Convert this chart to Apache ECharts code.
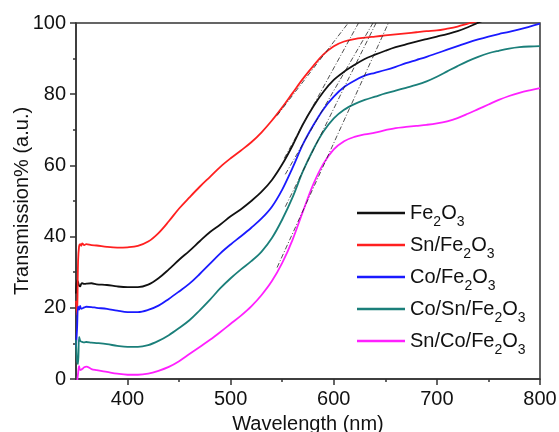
<!DOCTYPE html>
<html>
<head>
<meta charset="utf-8">
<script src="https://cdn.jsdelivr.net/npm/echarts@6/dist/echarts.min.js"></script>
<style>
html,body{margin:0;padding:0;background:#fff;}
#c{width:559px;height:432px;}
</style>
</head>
<body>
<div id="c"></div>
<script>
// Wavelength grid (nm)
var wavelengths = [350,351,352,353,354,355,356,358,360,365,370,380,390,400,410,420,430,440,450,460,470,480,490,500,510,520,530,540,550,560,570,580,590,600,610,620,630,640,650,660,670,680,690,700,710,720,730,740,750,760,770,780,790,800];

var seriesNames = ['Fe2O3', 'Sn/Fe2O3', 'Co/Fe2O3', 'Co/Sn/Fe2O3', 'Sn/Co/Fe2O3'];
var seriesColors = ['#111111', '#ff2020', '#1a1aff', '#1b7f7a', '#ff20ff'];

var fe2o3 = [24,27.8,27.2,26.2,26.0,26.7,26.9,26.7,26.8,26.9,26.6,26.4,26.0,25.8,25.8,26.5,28.3,30.8,33.5,36.0,38.7,41.3,43.4,45.7,47.7,50.0,52.6,55.9,60.3,65.6,71.5,76.5,80.7,84.0,86.3,88.2,89.9,91.1,92.2,93.2,94.0,94.8,95.5,96.2,96.9,97.7,98.8,100.1,101.2,null,null,null,null,null];
var snFe2o3 = [22,18,33,37.3,37.9,37.4,38.1,37.6,37.9,37.6,37.5,37.1,36.9,37.0,37.4,38.6,41.0,44.3,47.9,51.0,54.0,56.8,59.6,62.0,64.2,66.5,69.3,72.6,76.3,80.3,84.3,87.9,91.2,93.5,94.8,95.5,95.9,96.2,96.5,96.8,97.1,97.4,97.7,97.9,98.4,99.0,99.8,100.6,101.3,null,null,null,null,null];
var coFe2o3 = [9,14,20.3,19.5,20.5,19.7,19.8,20.1,20.3,20.2,20.0,19.7,19.2,18.8,18.8,19.4,20.6,22.5,24.6,26.8,29.5,32.4,35.3,37.8,40.1,42.5,45.1,48.4,53.2,59.3,65.9,71.2,75.8,79.3,82.0,83.8,85.2,86.0,86.8,87.7,88.7,89.6,90.5,91.5,92.5,93.5,94.5,95.4,96.2,96.9,97.5,98.2,99.0,99.8];
var coSnFe2o3 = [11,5,4.2,11.8,10.8,10.5,10.4,10.3,10.4,10.2,10.1,9.8,9.3,9.0,9.0,9.5,10.7,12.3,14.3,16.5,19.3,22.3,25.5,28.3,30.8,33.1,35.8,39.6,44.8,51.0,58.3,64.4,69.5,73.2,75.6,77.2,78.4,79.3,80.2,81.0,81.8,82.6,83.6,84.9,86.4,87.9,89.3,90.5,91.5,92.2,92.8,93.2,93.4,93.5];
var snCoFe2o3 = [-3,-1,1.5,3.6,2.5,2.6,2.8,3.3,3.5,2.8,2.5,2.0,1.5,1.2,1.2,1.5,2.3,3.4,5.0,7.0,9.0,11.0,13.2,15.5,17.8,20.4,23.6,27.5,32.6,39.1,47.0,54.6,60.5,64.5,66.8,68.0,68.7,69.2,69.9,70.5,70.8,71.1,71.4,71.8,72.4,73.3,74.5,75.8,77.1,78.4,79.5,80.4,81.1,81.7];

// Tangent (dash-dot) lines: [x1, y1, x2, y2]
var tangentRed = [545, 74.0, 614, 100];
var tangentBlack = [552, 62.0, 624, 100];
var tangentBlue = [553, 57.5, 638, 100];
var tangentTeal = [553, 48.4, 641, 100];
var tangentMagenta = [545, 31.3, 653, 100];

var xMajorTicks = [400, 500, 600, 700, 800];
var xMinorTicks = [450, 550, 650, 750];

var allData = [fe2o3, snFe2o3, coFe2o3, coSnFe2o3, snCoFe2o3];
var tangents = [tangentRed, tangentBlack, tangentBlue, tangentTeal, tangentMagenta];

function pairs(vals) {
  return wavelengths.map(function (w, i) { return [w, vals[i]]; });
}

var series = allData.map(function (vals, i) {
  return {
    name: seriesNames[i], type: 'line', data: pairs(vals), showSymbol: false, symbol: 'none',
    connectNulls: false, clip: true, smooth: 0.35,
    lineStyle: { color: seriesColors[i], width: 1.8 }, itemStyle: { color: seriesColors[i] },
    z: 2
  };
});
tangents.forEach(function (t) {
  series.push({
    type: 'line', data: [[t[0], t[1]], [t[2], t[3]]], symbol: 'none', silent: true, clip: true,
    lineStyle: { color: '#222', width: 0.8, type: [5, 2, 1, 2] }, z: 3, tooltip: { show: false }
  });
});

var FONT = 'Liberation Sans, Arial, sans-serif';
var chart = echarts.init(document.getElementById('c'), null, { renderer: 'canvas' });
chart.setOption({
  animation: false,
  backgroundColor: '#ffffff',
  grid: { left: 76, right: 19, top: 23, bottom: 53, containLabel: false, outerBoundsMode: 'none', show: true, borderColor: '#333', borderWidth: 1.5, backgroundColor: 'transparent' },
  legend: {
    data: seriesNames, orient: 'vertical', left: 357, top: 197, padding: 0, icon: 'rect',
    itemWidth: 48, itemHeight: 2.5, itemGap: 0,
    formatter: function (n) { return n.replace(/(\d)/g, '{s|$1}'); },
    textStyle: {
      fontFamily: FONT, fontSize: 20, color: '#111', lineHeight: 22,
      rich: { s: { fontFamily: FONT, fontSize: 14, lineHeight: 14, padding: [18, 0, 0, 0], color: '#111' } }
    }
  },
  xAxis: [{
    type: 'value', min: 350, max: 800, position: 'bottom',
    name: 'Wavelength (nm)', nameLocation: 'middle', nameGap: 35, nameMoveOverlap: false,
    nameTextStyle: { fontFamily: FONT, fontSize: 20, color: '#111' },
    axisLine: { show: true, lineStyle: { color: '#333', width: 1.5 } },
    axisTick: { show: true, inside: false, length: 6, lineStyle: { color: '#333', width: 1.5 }, customValues: xMajorTicks },
    axisLabel: { fontFamily: FONT, fontSize: 20, color: '#111', margin: 10, customValues: xMajorTicks },
    splitLine: { show: false }
  }, {
    type: 'value', min: 350, max: 800, position: 'bottom', offset: 0,
    axisLine: { show: false },
    axisTick: { show: true, length: 3, lineStyle: { color: '#333', width: 1.5 }, customValues: xMinorTicks },
    axisLabel: { show: false, customValues: xMinorTicks },
    splitLine: { show: false }
  }],
  yAxis: {
    type: 'value', min: 0, max: 100, interval: 20,
    name: 'Transmission% (a.u.)', nameLocation: 'middle', nameGap: 44, nameMoveOverlap: false,
    nameTextStyle: { fontFamily: FONT, fontSize: 20, color: '#111' },
    axisLine: { show: true, lineStyle: { color: '#333', width: 1.5 } },
    axisTick: { show: true, length: 6, lineStyle: { color: '#333', width: 1.5 } },
    minorTick: { show: true, splitNumber: 2, length: 3, lineStyle: { color: '#333', width: 1.5 } },
    axisLabel: { fontFamily: FONT, fontSize: 20, color: '#111', margin: 10 },
    splitLine: { show: false }
  },
  series: series
});
</script>
</body>
</html>
